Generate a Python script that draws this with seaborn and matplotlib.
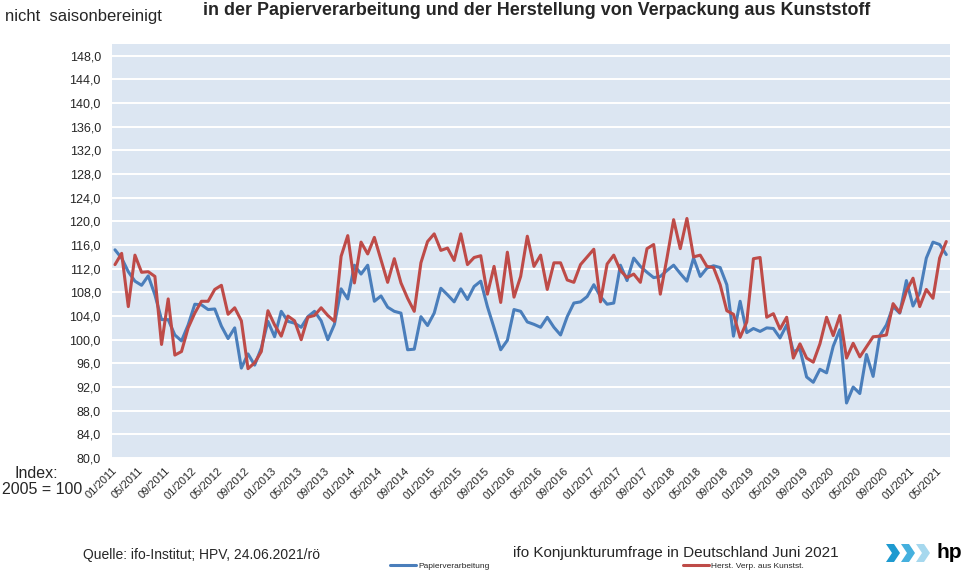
import matplotlib
matplotlib.use("Agg")
import matplotlib.pyplot as plt
from matplotlib import font_manager
from matplotlib.patches import Polygon
from matplotlib.lines import Line2D
import seaborn as sns
import pandas as pd

# ---------------- data ----------------
series_names = ["Papierverarbeitung", "Herst. Verp. aus Kunstst."]
series_colors = ["#4A7EBB", "#BE4B48"]

papier = [
    115.2, 113.8, 111.5, 109.9, 109.2, 110.8, 107.6, 103.4, 103.4, 100.8, 99.8, 102.5,
    106.0, 105.9, 105.1, 105.2, 102.3, 100.2, 102.0, 95.2, 97.6, 95.7, 98.6, 103.1,
    100.5, 104.8, 103.1, 102.8, 102.1, 103.9, 104.8, 103.2, 100.0, 102.6, 108.6, 106.9,
    112.6, 111.1, 112.6, 106.5, 107.4, 105.5, 104.8, 104.5, 98.3, 98.4, 103.9, 102.4,
    104.5, 108.7, 107.6, 106.4, 108.6, 106.8, 109.0, 109.9, 105.6, 102.0, 98.3, 99.9,
    105.1, 104.8, 103.0, 102.6, 102.1, 103.8, 102.1, 100.8, 103.9, 106.2, 106.4, 107.3,
    109.3, 107.3, 106.0, 106.2, 112.6, 110.0, 113.8, 112.4, 111.4, 110.5, 110.7, 111.7,
    112.6, 111.2, 109.9, 113.8, 110.7, 112.1, 112.5, 112.2, 109.3, 100.6, 106.5, 101.2,
    101.9, 101.4, 102.0, 101.9, 100.3, 102.5, 98.0, 98.4, 93.7, 92.8, 95.0, 94.4,
    98.9, 101.7, 89.3, 92.0, 90.9, 97.5, 93.8, 100.7, 102.5, 105.6, 104.5, 110.0,
    105.7, 107.9, 113.8, 116.5, 116.1, 114.4,
]
kunststoff = [
    112.7, 114.6, 105.6, 114.3, 111.4, 111.5, 110.7, 99.2, 106.9, 97.4, 98.0, 102.0,
    104.5, 106.5, 106.5, 108.5, 109.2, 104.3, 105.4, 103.2, 95.1, 96.1, 98.0, 104.9,
    102.5, 100.6, 104.0, 103.2, 100.0, 103.8, 104.1, 105.4, 104.1, 103.1, 114.1, 117.6,
    109.6, 116.5, 114.5, 117.3, 113.5, 109.7, 113.7, 109.6, 107.0, 104.8, 113.0, 116.6,
    117.9, 115.1, 115.5, 113.4, 117.9, 112.7, 113.9, 114.2, 107.7, 112.4, 106.3, 114.8,
    107.2, 110.7, 117.5, 112.4, 114.3, 108.5, 113.0, 113.0, 110.1, 109.7, 112.7, 114.0,
    115.3, 106.4, 112.8, 114.3, 111.7, 110.5, 111.1, 109.7, 115.4, 116.1, 107.7, 113.8,
    120.3, 115.4, 120.5, 114.0, 114.3, 112.4, 112.2, 109.3, 104.9, 104.3, 100.4, 103.0,
    113.7, 113.9, 103.8, 104.4, 101.8, 103.8, 96.9, 99.3, 96.9, 96.2, 99.3, 103.8,
    100.7, 104.1, 96.9, 99.4, 97.1, 98.8, 100.5, 100.6, 100.8, 106.1, 104.6, 108.2,
    110.4, 105.6, 108.5, 107.0, 113.8, 116.6,
]
months = [f"{m:02d}/{y}" for y in range(2011, 2022) for m in range(1, 13)][:len(papier)]
tick_step = 4
y_ticks = list(range(80, 152, 4))
y_tick_labels = [f"{v:.1f}".replace(".", ",") for v in y_ticks]

title = "in der Papierverarbeitung und der Herstellung von Verpackung aus Kunststoff"
subtitle = "nicht  saisonbereinigt"
source = "Quelle: ifo-Institut; HPV, 24.06.2021/rö"
survey = "ifo Konjunkturumfrage in Deutschland Juni 2021"

# ---------------- figure ----------------
W, H = 964, 571
sns.set_style("white", {"axes.facecolor": "#DCE6F2", "grid.color": "white"})
names = {f.name for f in font_manager.fontManager.ttflist}
base = "Liberation Sans" if "Liberation Sans" in names else "DejaVu Sans"
narrow = "Liberation Sans Narrow" if "Liberation Sans Narrow" in names else base
plt.rcParams["font.family"] = [base, "DejaVu Sans"]

fig = plt.figure(figsize=(W / 100, H / 100), dpi=100)
fig.patch.set_facecolor("white")
ax = fig.add_axes([112 / W, 1 - 458 / H, (950 - 112) / W, (458 - 44) / H])

df = pd.DataFrame({
    "t": list(range(len(papier))) * 2,
    "Index": papier + kunststoff,
    "Reihe": [series_names[0]] * len(papier) + [series_names[1]] * len(kunststoff),
})
sns.lineplot(data=df, x="t", y="Index", hue="Reihe", hue_order=series_names,
             palette=dict(zip(series_names, series_colors)), linewidth=2.2,
             ax=ax, legend=False)

ax.set_xlim(-0.45, len(papier) - 1 + 0.56)
ax.set_ylim(80, 150)
ax.set_yticks(y_ticks)
ax.set_yticklabels(y_tick_labels, fontsize=9)
xt = list(range(0, len(months), tick_step))
ax.set_xticks(xt)
ax.set_xticklabels([months[i] for i in xt], fontsize=8, rotation=45,
                   ha="right", va="center", rotation_mode="anchor")
ax.tick_params(axis="x", length=0, pad=8)
ax.tick_params(axis="y", length=0, pad=8)
ax.set_xlabel("")
ax.set_ylabel("")
ax.grid(axis="y", color="white", linewidth=1.4)
ax.grid(axis="x", visible=False)
for s in ax.spines.values():
    s.set_visible(False)

# ---------------- texts ----------------
fig.canvas.draw()
rend = fig.canvas.get_renderer()


def fit(t, width_px):
    bb = t.get_window_extent(renderer=rend)
    t.set_fontsize(t.get_fontsize() * width_px / bb.width)


def px(x, y):
    return x / W, 1 - y / H


t_title = fig.text(*px(537, 2), title, ha="center", va="top",
                   fontsize=11, fontweight="bold", family=[narrow, "DejaVu Sans"])
fit(t_title, 667)
t_sub = fig.text(*px(5, 16), subtitle, ha="left", va="center",
                 fontsize=10, family=[narrow, "DejaVu Sans"])
fit(t_sub, 157)
fig.text(*px(36, 473), "Index:", ha="center", va="center", fontsize=11.5)
fig.text(*px(2, 490), "2005 = 100", ha="left", va="center", fontsize=11.5)
fig.text(*px(83, 555), source, ha="left", va="center", fontsize=10)
fig.text(*px(513, 553), survey, ha="left", va="center", fontsize=11)

# legend (two separate entries as in the original)
for name, col, xpos in [(series_names[0], series_colors[0], 390),
                        (series_names[1], series_colors[1], 683)]:
    h = Line2D([], [], color=col, linewidth=2.2)
    fig.legend([h], [name], loc="center left", bbox_to_anchor=px(xpos, 566),
               frameon=False, fontsize=6, handlelength=3.1, handletextpad=0.25,
               borderpad=0, borderaxespad=0)

# logo
lax = fig.add_axes([0, 0, 1, 1], facecolor="none")
lax.set_xlim(0, W)
lax.set_ylim(H, 0)
lax.axis("off")
for k, c in enumerate(["#1E9AD0", "#45B0DE", "#A6D8EE"]):
    x0 = 886 + k * 15
    pts = [(x0, 544), (x0 + 8, 544), (x0 + 14, 553), (x0 + 8, 562), (x0, 562), (x0 + 6, 553)]
    lax.add_patch(Polygon(pts, closed=True, facecolor=c, edgecolor="none"))
lax.text(937, 558, "hp", ha="left", va="baseline", fontsize=15, fontweight="bold",
         color="black")

fig.savefig("out.png", dpi=100, facecolor="white")
